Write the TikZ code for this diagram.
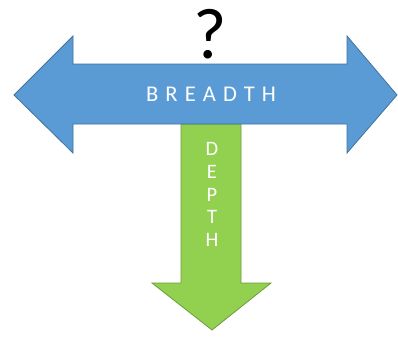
\documentclass[tikz,border=0pt]{standalone}
\usepackage{fontspec}
\setmainfont{Carlito}
\newfontfamily\spacedfont[LetterSpace=32]{Carlito}
\usepackage{tikz}
\definecolor{breadthblue}{HTML}{5B9BD5}
\definecolor{breadthline}{HTML}{41719C}
\definecolor{depthgreen}{HTML}{92D050}
\definecolor{depthline}{HTML}{6E9C3C}

\begin{document}
\begin{tikzpicture}[x=1pt, y=-1pt, every node/.style={font=\spacedfont, text=white}]
	\useasboundingbox (0,0) rectangle (398,341);
	\tikzset{
		arrowbody/.style={line width=0.8pt, line join=miter},
	}
	% depth arrow (behind)
	\draw[arrowbody, fill=depthgreen, draw=depthline] (181,124) -- (241,124) -- (241,283) -- (271,283) -- (212,330) -- (152,283) -- (181,283) -- cycle;
	% breadth arrow
	\draw[arrowbody, fill=breadthblue, draw=breadthline] (14,95) -- (73,36) -- (73,64) -- (347,64) -- (347,36) -- (397,95) -- (347,153) -- (347,124) -- (73,124) -- (73,153) -- cycle;
	\node (breadth) at (211,94.5) {\fontsize{22.5}{22.5}\selectfont BREADTH};
	\node[align=center, font=\fontsize{20.5}{22.8}\selectfont] (depth) at (212,194.5) {D\\E\\P\\T\\H};
	\node[text=black, font=\fontsize{72}{72}\selectfont] (question) at (210.5,34) {?};
\end{tikzpicture}
\end{document}
